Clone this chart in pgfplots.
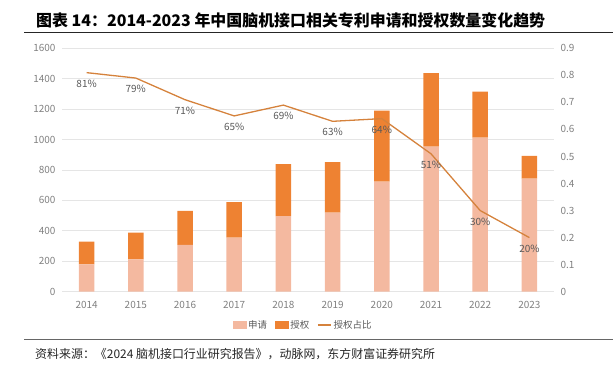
\documentclass[border=0pt]{standalone}
\usepackage{pgfplots}
\pgfplotsset{compat=1.18}
\usepackage{fontspec}
\setmainfont{Noto Sans CJK SC}
\definecolor{lightc}{HTML}{F4B9A0}
\definecolor{darkc}{HTML}{EE8232}
\definecolor{linec}{HTML}{D5823C}
\definecolor{tickgray}{HTML}{808080}
\definecolor{labgray}{HTML}{595959}
\begin{document}
\begin{tikzpicture}
\path[use as bounding box] (0bp,0bp) rectangle (613bp,375bp);
\node[anchor=west, inner sep=0pt, font=\fontsize{16}{18}\selectfont\bfseries] at (36bp,354.3bp) {图表 14：2014-2023 年中国脑机接口相关专利申请和授权数量变化趋势};
\draw[line width=1bp, black!85] (24bp,342.7bp) -- (613bp,342.7bp);
\draw[line width=1bp, black!60] (24bp,35bp) -- (613bp,35bp);
\node[anchor=west, inner sep=0pt, font=\fontsize{12}{14}\selectfont, text=black!85] at (35bp,21bp) {资料来源：《2024 脑机接口行业研究报告》，动脉网，东方财富证券研究所};

\begin{axis}[
  at={(62bp,83.3bp)}, anchor=south west,
  width=492bp, height=243.4bp, scale only axis,
  xmin=-0.5, xmax=9.5, ymin=0, ymax=1600,
  ytick={0,200,...,1600},
  xtick={0,...,9},
  xticklabels={2014,2015,2016,2017,2018,2019,2020,2021,2022,2023},
  ybar stacked, bar width=15.5bp,
  axis line style={draw=none},
  major tick length=0pt,
  ymajorgrids, grid style={color=black!10, line width=0.8bp},
  tick label style={font=\fontsize{10}{12}\selectfont, text=tickgray},
  /pgf/number format/assume math mode=true,
  /pgf/number format/1000 sep={},
  xticklabel shift=6bp,
  yticklabel shift=3bp,
]
\addplot[fill=lightc, draw=none] coordinates {(0,180) (1,213) (2,307) (3,355) (4,496) (5,520) (6,724) (7,954) (8,1013) (9,744)};
\addplot[fill=darkc, draw=none] coordinates {(0,149) (1,175) (2,224) (3,233) (4,342) (5,331) (6,467) (7,483) (8,303) (9,149)};
\end{axis}

\begin{axis}[
  at={(62bp,83.3bp)}, anchor=south west,
  width=492bp, height=243.4bp, scale only axis,
  xmin=-0.5, xmax=9.5, ymin=0, ymax=0.9,
  axis x line=none, axis y line*=right,
  axis line style={draw=none},
  major tick length=0pt,
  ytick={0,0.1,0.2,0.3,0.4,0.5,0.6,0.7,0.8,0.9},
  yticklabels={0,0.1,0.2,0.3,0.4,0.5,0.6,0.7,0.8,0.9},
  tick label style={font=\fontsize{10}{12}\selectfont, text=tickgray},
  yticklabel shift=3bp,
  legend columns=-1,
  legend style={at={(0.49,-0.137)}, anchor=center, draw=none, fill=none,
    font=\fontsize{9.5}{11}\selectfont, text=labgray, inner sep=0pt,
    /tikz/every even column/.append style={column sep=6bp}},
]
\addlegendimage{legend image code/.code={\fill[lightc] (0bp,-3.5bp) rectangle (13bp,3.5bp);}}
\addlegendentry{申请}
\addlegendimage{legend image code/.code={\fill[darkc] (0bp,-3.5bp) rectangle (13bp,3.5bp);}}
\addlegendentry{授权}
\addlegendimage{legend image code/.code={\draw[linec, line width=1.3bp] (0bp,0bp) -- (13bp,0bp);}}
\addlegendentry{授权占比}
\addplot[forget plot, linec, line width=1.3bp, mark=none,
  nodes near coords, point meta=explicit symbolic,
  every node near coord/.append style={anchor=center, yshift=-11bp, font=\fontsize{10}{12}\selectfont, text=labgray}]
  coordinates {(0,0.81)[81\%] (1,0.79)[79\%] (2,0.71)[71\%] (3,0.65)[65\%] (4,0.69)[69\%] (5,0.63)[63\%] (6,0.64)[64\%] (7,0.51)[51\%] (8,0.30)[30\%] (9,0.20)[20\%]};
\end{axis}
\end{tikzpicture}
\end{document}
